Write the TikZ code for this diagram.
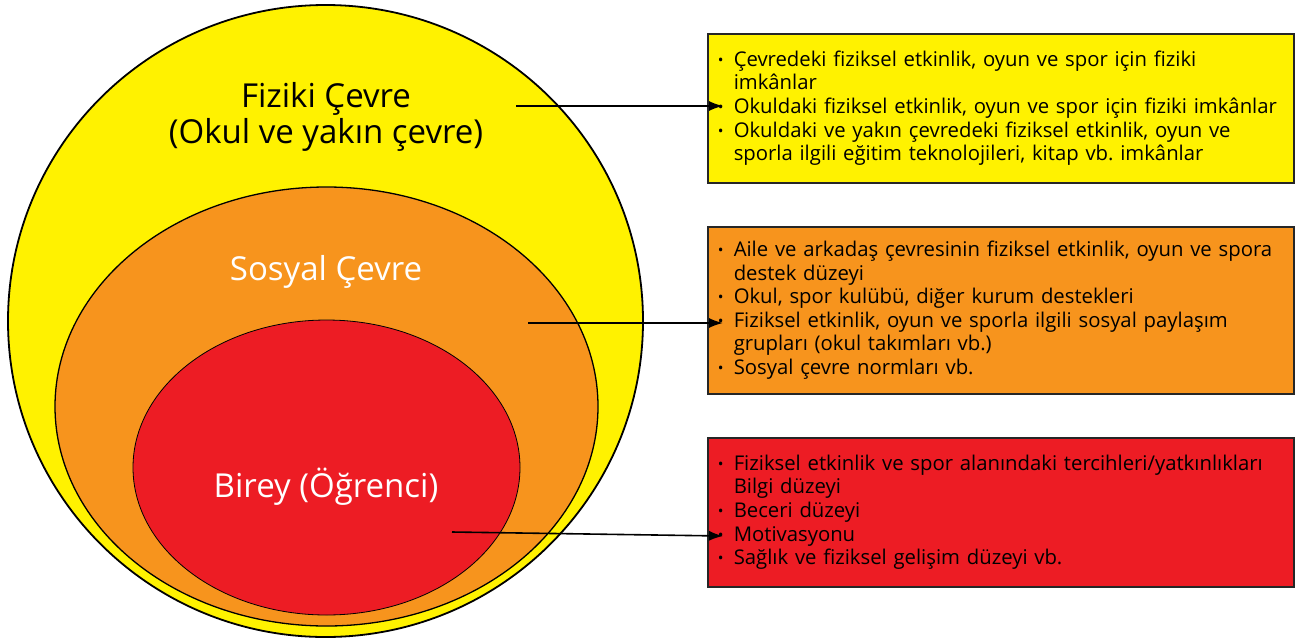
\documentclass[tikz,border=0pt]{standalone}
\usepackage{fontspec}
\setmainfont{Open Sans}
\usetikzlibrary{positioning, arrows.meta, shapes.geometric}
\definecolor{fizyel}{HTML}{FFF200}
\definecolor{sosorg}{HTML}{F7941D}
\definecolor{birred}{HTML}{ED1C24}
\newcommand{\itm}{\makebox[16pt][l]{\raisebox{1pt}{\scalebox{0.75}{\textbullet}}}}
\newcommand{\cnt}{\hspace*{16pt}}
\frenchspacing

\begin{document}
\begin{tikzpicture}[x=1pt, y=-1pt,
    ring/.style={ellipse, draw=black, inner sep=0pt},
    lbl/.style={font=\fontsize{33}{36}\selectfont, align=center},
    infobox/.style={draw=black!85, line width=1.5pt, anchor=north west,
      minimum width=586pt, inner xsep=10pt, text width=566pt, align=left,
      font=\fontsize{20.3}{23.6}\selectfont},
    link/.style={line width=1.6pt, -{Latex[length=14pt, width=10pt]}}]
  \useasboundingbox (0,0) rectangle (1296,641);

  % circles
  \node[ring, fill=fizyel, line width=1.8pt, minimum width=635pt, minimum height=632pt] (fiz) at (325.5,321) {};
  \node[ring, fill=sosorg, line width=1.3pt, minimum width=543pt, minimum height=439pt] (sos) at (326.5,406.5) {};
  \node[ring, fill=birred, line width=0.8pt, minimum width=387pt, minimum height=295pt] (bir) at (326.5,467.5) {};

  \node[lbl] (fiz-lbl) at (326,117) {Fiziki Çevre\\(Okul ve yakın çevre)};
  \node[lbl, white] (sos-lbl) at (326,272) {Sosyal Çevre};
  \node[lbl, white] (bir-lbl) at (326,487) {Birey (Öğrenci)};

  % boxes
  \node[infobox, fill=fizyel, minimum height=149pt] (fiz-box) at (707,33) {%
    \itm Çevredeki fiziksel etkinlik, oyun ve spor için fiziki\\
    \cnt imkânlar\\
    \itm Okuldaki fiziksel etkinlik, oyun ve spor için fiziki imkânlar\\
    \itm Okuldaki ve yakın çevredeki fiziksel etkinlik, oyun ve\\
    \cnt sporla ilgili eğitim teknolojileri, kitap vb. imkânlar};
  \node[infobox, fill=sosorg, minimum height=167pt] (sos-box) at (707,226) {%
    \itm Aile ve arkadaş çevresinin fiziksel etkinlik, oyun ve spora\\
    \cnt destek düzeyi\\
    \itm Okul, spor kulübü, diğer kurum destekleri\\
    \itm Fiziksel etkinlik, oyun ve sporla ilgili sosyal paylaşım\\
    \cnt grupları (okul takımları vb.)\\
    \itm Sosyal çevre normları vb.};
  \node[infobox, fill=birred, minimum height=149pt] (bir-box) at (707,437) {%
    \itm Fiziksel etkinlik ve spor alanındaki tercihleri/yatkınlıkları\\
    \cnt Bilgi düzeyi\\
    \itm Beceri düzeyi\\
    \itm Motivasyonu\\
    \itm Sağlık ve fiziksel gelişim düzeyi vb.};

  % arrows
  \coordinate (fiz-start) at (516,106);
  \coordinate (fiz-end) at (723,106);
  \coordinate (sos-start) at (528,323);
  \coordinate (sos-end) at (723,323);
  \coordinate (bir-start) at (452,532);
  \coordinate (bir-end) at (723,536);
  \draw[link] (fiz-start) -- (fiz-end);
  \draw[link] (sos-start) -- (sos-end);
  \draw[link] (bir-start) -- (bir-end);
\end{tikzpicture}
\end{document}
